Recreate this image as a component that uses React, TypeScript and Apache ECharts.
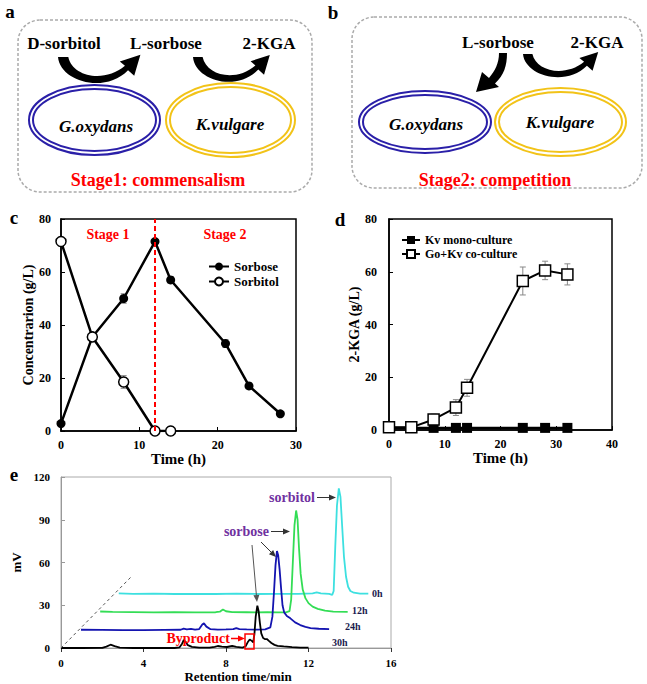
import React, { useEffect, useRef } from 'react';
import * as echarts from 'echarts';

const SERIF = "'Liberation Serif', serif";

// ---------- Panel c ----------
const timeC = [0, 4, 8, 12, 14, 21, 24, 28];
const sorbose = [2.8, 35.5, 50, 71.5, 57, 33, 17, 6.5];
const sorboseErr = [0, 0, 1.8, 0, 1.2, 1.5, 0.8, 0];
const timeSorbitol = [0, 4, 8, 12, 14];
const sorbitol = [71.5, 35.5, 18.5, 0, 0];
const sorbitolErr = [0, 0, 2.4, 0, 0];
const stageBoundary = 12;

// ---------- Panel d ----------
const timeD = [0, 4, 8, 12, 14, 24, 28, 32];
const monoCulture = [0.8, 0.8, 0.8, 0.8, 0.8, 0.8, 0.8, 0.8];
const coCulture = [1, 1, 4, 8.5, 16, 56.5, 60.5, 59];
const coCultureErr = [0, 0, 2, 3, 3.2, 5.3, 3.5, 4];

// ---------- Panel e (chromatograms, [min, mV]) ----------
const trace0h = [
  [2.8, 38.3], [3.5, 38.0], [4.5, 38.1], [5.5, 37.9], [6.5, 38.0], [7.5, 37.9], [8.5, 38.2], [9.5, 37.9],
  [10.5, 38.0], [11.5, 38.0], [12.2, 38.3], [12.4, 39.0], [12.6, 38.3], [13.0, 38.0], [13.15, 37.3],
  [13.22, 40], [13.3, 72], [13.38, 100], [13.47, 112], [13.55, 106], [13.63, 86], [13.72, 64],
  [13.82, 50], [13.92, 43], [14.03, 40], [14.2, 38.8], [14.5, 38.2], [14.9, 38.1],
];
const trace12h = [
  [1.9, 25.6], [2.5, 25.3], [3.5, 25.2], [4.5, 25.0], [5.5, 25.1], [6.5, 25.0], [7.5, 25.1], [7.7, 25.5],
  [7.85, 27], [8.0, 25.8], [8.3, 25.2], [9, 25.1], [9.5, 25.0], [10, 25.1], [10.5, 25.0], [10.9, 25.0],
  [11.08, 25.8], [11.16, 34], [11.24, 60], [11.32, 86], [11.4, 96.5], [11.47, 90], [11.54, 70],
  [11.62, 52], [11.72, 41], [11.85, 35], [12.0, 31.5], [12.2, 29], [12.45, 27.5], [12.8, 26.2],
  [13.2, 25.5], [13.9, 25.3],
];
const trace24h = [
  [0.97, 12.8], [2, 12.7], [3, 12.6], [4, 12.6], [5, 12.7], [5.8, 12.8], [5.95, 13.6], [6.1, 13.1],
  [6.3, 13.4], [6.5, 12.9], [6.7, 13.3], [6.85, 16.5], [6.93, 17.3], [7.05, 15], [7.25, 13.2],
  [7.6, 12.9], [8.0, 13.0], [8.35, 13.2], [8.5, 14], [8.65, 13.3], [9.0, 13.0], [9.5, 12.9],
  [9.9, 13.1], [10.15, 14.5], [10.25, 22], [10.33, 40], [10.4, 58], [10.47, 68], [10.53, 65],
  [10.6, 55], [10.67, 42], [10.74, 30], [10.82, 25], [10.95, 22.5], [11.12, 20.8], [11.35, 18],
  [11.6, 16.1], [11.85, 14.8], [12.1, 14], [12.5, 13.5], [13.0, 13.3],
];
const trace30h = [
  [0, 0], [1, 0], [2.0, 0.1], [2.2, 1.0], [2.4, 2.3], [2.6, 1.3], [2.85, 0.3], [3.5, 0], [4.5, 0],
  [5.5, 0], [5.75, 0.5], [5.87, 3], [5.95, 5.6], [6.05, 4.2], [6.15, 2], [6.35, 0.8], [6.7, 0.3],
  [7.2, 0.3], [7.45, 0.8], [7.6, 1.4], [7.8, 1.0], [8.05, 0.7], [8.3, 1.4], [8.5, 0.8], [8.8, 0.3],
  [8.95, 1.2], [9.05, 4], [9.15, 6], [9.25, 5], [9.32, 4], [9.38, 10], [9.44, 22], [9.52, 29.7],
  [9.58, 26], [9.64, 18], [9.71, 10.3], [9.8, 7], [9.9, 6.2], [9.98, 6.3], [10.08, 5], [10.2, 3.5],
  [10.35, 2.2], [10.5, 1.5], [10.8, 1.1], [11.2, 0.6], [11.6, 0.3], [12.0, 0.2],
];
const traceLabels = ['0h', '12h', '24h', '30h'];

// ---------- Decorative arrow shapes ----------
const CURVED_ARROW =
  'M 0 0 C 2 22 45 34 68 12 L 74 17 L 80 -2 L 60 4 L 65 8 C 45 24 14 18 10 0 Z';
const DOWN_ARROW =
  'M 499 53 L 507 53 C 507 66 504 75 495 83.5 L 499 87 L 476 92 L 482 72 L 489 78 C 495 71 499 63 499 53 Z';
echarts.graphic.registerShape('curvedArrow', echarts.graphic.extendPath(CURVED_ARROW, {}));
echarts.graphic.registerShape('downArrow', echarts.graphic.extendPath(DOWN_ARROW, {}));

const labelStyle = { color: '#000', fontFamily: SERIF, fontWeight: 'bold' as const, fontSize: 12 };

function errSeries(axis: number, xs: number[], ys: number[], errs: number[]) {
  const data = xs
    .map((x, i) => [x, ys[i] - errs[i], ys[i] + errs[i]])
    .filter((_, i) => errs[i] > 0);
  return {
    type: 'custom',
    xAxisIndex: axis,
    yAxisIndex: axis,
    silent: true,
    z: 1,
    encode: { x: 0, y: [1, 2] },
    data,
    renderItem: (_p: any, api: any) => {
      const x = api.value(0);
      const top = api.coord([x, api.value(2)]);
      const bot = api.coord([x, api.value(1)]);
      const st = { stroke: '#888', lineWidth: 1 };
      return {
        type: 'group',
        children: [
          { type: 'line', shape: { x1: top[0], y1: top[1], x2: bot[0], y2: bot[1] }, style: st },
          { type: 'line', shape: { x1: top[0] - 3, y1: top[1], x2: top[0] + 3, y2: top[1] }, style: st },
          { type: 'line', shape: { x1: bot[0] - 3, y1: bot[1], x2: bot[0] + 3, y2: bot[1] }, style: st },
        ],
      };
    },
  };
}

function arrow(x1: number, y1: number, x2: number, y2: number, color: string, width = 1) {
  const a = Math.atan2(y2 - y1, x2 - x1);
  const L = 7;
  const w = 3;
  const bx = x2 - L * Math.cos(a);
  const by = y2 - L * Math.sin(a);
  return [
    { type: 'line', z: 100, shape: { x1, y1, x2: bx, y2: by }, style: { stroke: color, lineWidth: width } },
    {
      type: 'polygon',
      z: 100,
      shape: {
        points: [
          [x2, y2],
          [bx + w * Math.sin(a), by - w * Math.cos(a)],
          [bx - w * Math.sin(a), by + w * Math.cos(a)],
        ],
      },
      style: { fill: color },
    },
  ];
}

function txt(text: string, x: number, y: number, size: number, color = '#000', align = 'center', extra: any = {}) {
  return {
    type: 'text',
    z: 100,
    x,
    y,
    style: {
      text,
      fill: color,
      fontFamily: SERIF,
      fontWeight: 'bold',
      fontSize: size,
      align,
      verticalAlign: 'middle',
      ...extra,
    },
  };
}

function ellipseDouble(cx: number, cy: number, rx: number, ry: number, color: string) {
  return [
    { type: 'ellipse', z: 90, shape: { cx, cy, rx, ry }, style: { fill: 'none', stroke: color, lineWidth: 2 } },
    { type: 'ellipse', z: 90, shape: { cx, cy, rx: rx - 4, ry: ry - 4 }, style: { fill: 'none', stroke: color, lineWidth: 2 } },
  ];
}

export default function App() {
  const ref = useRef<HTMLDivElement>(null);
  useEffect(() => {
    if (!ref.current) return;
    const chart = echarts.init(ref.current, undefined, { renderer: 'svg' });
    const BLUE = '#2a1fa8';
    const YELLOW = '#f2c318';

    const graphic: any[] = [
      // panel letters
      txt('a', 10, 11, 19, '#000', 'center'),
      txt('b', 333, 12, 19, '#000', 'center'),
      txt('c', 14, 217, 19, '#000', 'center'),
      txt('d', 340, 219, 19, '#000', 'center'),
      txt('e', 14, 474, 19, '#000', 'center'),
      // panel a
      { type: 'rect', z: 80, shape: { x: 18, y: 20, width: 294, height: 172, r: 22 }, style: { fill: 'none', stroke: '#aaa', lineWidth: 1.5, lineDash: [3, 2] } },
      txt('D-sorbitol', 64, 43, 17),
      txt('L-sorbose', 166, 43, 17),
      txt('2-KGA', 269, 43, 17),
      { type: 'curvedArrow', z: 95, x: 58, y: 57, scaleX: 1.03, scaleY: 1.1, style: { fill: '#000' } },
      { type: 'curvedArrow', z: 95, x: 193, y: 57, scaleX: 0.96, scaleY: 1.05, style: { fill: '#000' } },
      ...ellipseDouble(94.5, 120, 65.5, 35, BLUE),
      ...ellipseDouble(230.5, 120, 64.5, 37, YELLOW),
      txt('G.oxydans', 96, 126, 17, '#000', 'center', { fontStyle: 'italic' }),
      txt('K.vulgare', 230, 124, 17, '#000', 'center', { fontStyle: 'italic' }),
      txt('Stage1: commensalism', 158, 180, 18, '#f00'),
      // panel b
      { type: 'rect', z: 80, shape: { x: 352, y: 17, width: 290, height: 171, r: 22 }, style: { fill: 'none', stroke: '#aaa', lineWidth: 1.5, lineDash: [3, 2] } },
      txt('L-sorbose', 498, 42, 17),
      txt('2-KGA', 597, 42, 17),
      { type: 'downArrow', z: 95, x: 0, y: 0, style: { fill: '#000' } },
      { type: 'curvedArrow', z: 95, x: 523, y: 54, scaleX: 0.94, scaleY: 0.98, style: { fill: '#000' } },
      ...ellipseDouble(425, 122, 66, 31, BLUE),
      ...ellipseDouble(560.5, 122, 65.5, 34, YELLOW),
      txt('G.oxydans', 426, 124, 17, '#000', 'center', { fontStyle: 'italic' }),
      txt('K.vulgare', 560, 122, 17, '#000', 'center', { fontStyle: 'italic' }),
      txt('Stage2: competition', 495, 180, 18, '#f00'),
      // panel c stage labels
      txt('Stage 1', 108, 234, 14, '#f00'),
      txt('Stage 2', 225, 234, 14, '#f00'),
      // panel e annotations
      { type: 'line', z: 100, shape: { x1: 61, y1: 648, x2: 131, y2: 577 }, style: { stroke: '#555', lineWidth: 1, lineDash: [3, 3] } },
      txt('sorbitol', 315, 497, 14, '#7030a0', 'right'),
      ...arrow(317, 497.5, 336, 497.5, '#333'),
      txt('sorbose', 269, 531, 14, '#7030a0', 'right'),
      ...arrow(271, 531.5, 290, 531.5, '#333'),
      ...arrow(261, 542, 276, 557, '#333'),
      ...arrow(252, 545, 257, 602, '#555'),
      txt('Byproduct', 230, 638, 14, '#f00', 'right'),
      ...arrow(231, 638.5, 245, 638.5, '#f00', 1.5),
      { type: 'rect', z: 100, shape: { x: 245, y: 634, width: 9, height: 15 }, style: { fill: 'none', stroke: '#f00', lineWidth: 1.5 } },
      txt(traceLabels[0], 372, 593, 10, '#1a1a4d', 'left'),
      txt(traceLabels[1], 352, 610, 10, '#1a1a4d', 'left'),
      txt(traceLabels[2], 345, 626, 10, '#1a1a4d', 'left'),
      txt(traceLabels[3], 332, 642, 10, '#1a1a4d', 'left'),
    ];

    const blackAxisLine = { lineStyle: { color: '#000', width: 1.5 } };
    const insideTick = { inside: true, length: 4, lineStyle: { color: '#000' } };

    const option: any = {
      animation: false,
      backgroundColor: '#fff',
      textStyle: { fontFamily: SERIF },
      grid: [
        { left: 61, top: 219, width: 235, height: 212, show: true, borderColor: '#000', borderWidth: 1.5 },
        { left: 389, top: 219, width: 223, height: 211, show: true, borderColor: '#000', borderWidth: 1.5 },
        { left: 61, top: 477, width: 330, height: 171, show: true, borderColor: '#aaa', borderWidth: 1 },
      ],
      xAxis: [
        {
          gridIndex: 0, type: 'value', min: 0, max: 30, interval: 10,
          axisLine: blackAxisLine, axisTick: insideTick, splitLine: { show: false },
          axisLabel: { ...labelStyle, margin: 8 },
          name: 'Time (h)', nameLocation: 'middle', nameGap: 17,
          nameTextStyle: { fontFamily: SERIF, fontWeight: 'bold', fontSize: 15, color: '#000' },
        },
        {
          gridIndex: 1, type: 'value', min: 0, max: 40, interval: 10,
          axisLine: blackAxisLine, axisTick: insideTick, splitLine: { show: false },
          axisLabel: { ...labelStyle, margin: 8 },
          name: 'Time (h)', nameLocation: 'middle', nameGap: 17,
          nameTextStyle: { fontFamily: SERIF, fontWeight: 'bold', fontSize: 15, color: '#000' },
        },
        {
          gridIndex: 2, type: 'value', min: 0, max: 16, interval: 4,
          axisLine: { lineStyle: { color: '#999', width: 1 } },
          axisTick: { inside: false, length: 4, lineStyle: { color: '#333' } },
          splitLine: { show: false },
          axisLabel: { ...labelStyle, fontSize: 11, margin: 9 },
          name: 'Retention time/min', nameLocation: 'middle', nameGap: 22,
          nameTextStyle: { fontFamily: SERIF, fontWeight: 'bold', fontSize: 13, color: '#000', padding: [0, 0, 0, 24] },
        },
      ],
      yAxis: [
        {
          gridIndex: 0, type: 'value', min: 0, max: 80, interval: 20,
          axisLine: blackAxisLine, axisTick: insideTick, splitLine: { show: false },
          axisLabel: { ...labelStyle, margin: 10 },
          name: 'Concentrarion (g/L)', nameLocation: 'middle', nameGap: 26, nameRotate: 90,
          nameTextStyle: { fontFamily: SERIF, fontWeight: 'bold', fontSize: 14, color: '#000' },
        },
        {
          gridIndex: 1, type: 'value', min: 0, max: 80, interval: 20,
          axisLine: blackAxisLine, axisTick: insideTick, splitLine: { show: false },
          axisLabel: { ...labelStyle, margin: 12 },
          name: '2-KGA (g/L)', nameLocation: 'middle', nameGap: 27, nameRotate: 90,
          nameTextStyle: { fontFamily: SERIF, fontWeight: 'bold', fontSize: 14, color: '#000' },
        },
        {
          gridIndex: 2, type: 'value', min: 0, max: 120, interval: 30,
          axisLine: { lineStyle: { color: '#999', width: 1 } },
          axisTick: { inside: true, length: 4, lineStyle: { color: '#999' } },
          splitLine: { show: false },
          axisLabel: { ...labelStyle, fontSize: 11, margin: 11 },
          name: 'mV', nameLocation: 'middle', nameGap: 35, nameRotate: 90,
          nameTextStyle: { fontFamily: SERIF, fontWeight: 'bold', fontSize: 13, color: '#000' },
        },
      ],
      legend: [
        {
          left: 203, top: 255, orient: 'vertical', itemGap: 2, itemWidth: 20, itemHeight: 10,
          data: ['Sorbose', 'Sorbitol'],
          textStyle: { fontFamily: SERIF, fontWeight: 'bold', fontSize: 13, color: '#000' },
        },
        {
          left: 396, top: 229, orient: 'vertical', itemGap: 2, itemWidth: 18, itemHeight: 10,
          data: ['Kv mono-culture', 'Go+Kv co-culture'],
          textStyle: { fontFamily: SERIF, fontWeight: 'bold', fontSize: 12, color: '#000' },
        },
      ],
      series: [
        errSeries(0, timeC, sorbose, sorboseErr),
        errSeries(0, timeSorbitol, sorbitol, sorbitolErr),
        {
          type: 'line', name: 'Sorbose', xAxisIndex: 0, yAxisIndex: 0, z: 3,
          data: timeC.map((t, i) => [t, sorbose[i]]),
          symbol: 'circle', symbolSize: 9,
          itemStyle: { color: '#000' }, lineStyle: { color: '#000', width: 2.5 },
          markLine: {
            silent: true, symbol: ['none', 'none'], label: { show: false },
            lineStyle: { color: '#f00', type: [5, 3], width: 2 },
            data: [{ xAxis: stageBoundary }],
          },
        },
        {
          type: 'line', name: 'Sorbitol', xAxisIndex: 0, yAxisIndex: 0, z: 4,
          data: timeSorbitol.map((t, i) => [t, sorbitol[i]]),
          symbol: 'circle', symbolSize: 10,
          itemStyle: { color: '#fff', borderColor: '#000', borderWidth: 1.5 },
          lineStyle: { color: '#000', width: 2.5 },
        },
        errSeries(1, timeD, coCulture, coCultureErr),
        {
          type: 'line', name: 'Kv mono-culture', xAxisIndex: 1, yAxisIndex: 1, z: 3,
          data: timeD.map((t, i) => [t, monoCulture[i]]),
          symbol: 'rect', symbolSize: 10,
          itemStyle: { color: '#000' }, lineStyle: { color: '#000', width: 2.5 },
        },
        {
          type: 'line', name: 'Go+Kv co-culture', xAxisIndex: 1, yAxisIndex: 1, z: 4,
          data: timeD.map((t, i) => [t, coCulture[i]]),
          symbol: 'rect', symbolSize: 11,
          itemStyle: { color: '#fff', borderColor: '#000', borderWidth: 1.5 },
          lineStyle: { color: '#000', width: 2 },
        },
        {
          type: 'line', name: traceLabels[0], xAxisIndex: 2, yAxisIndex: 2, data: trace0h,
          showSymbol: false, symbol: 'none', lineStyle: { color: '#3de0e0', width: 1.8 },
        },
        {
          type: 'line', name: traceLabels[1], xAxisIndex: 2, yAxisIndex: 2, data: trace12h,
          showSymbol: false, symbol: 'none', lineStyle: { color: '#33dd55', width: 1.8 },
        },
        {
          type: 'line', name: traceLabels[2], xAxisIndex: 2, yAxisIndex: 2, data: trace24h,
          showSymbol: false, symbol: 'none', lineStyle: { color: '#1414b0', width: 1.8 },
        },
        {
          type: 'line', name: traceLabels[3], xAxisIndex: 2, yAxisIndex: 2, data: trace30h,
          showSymbol: false, symbol: 'none', lineStyle: { color: '#000', width: 1.8 },
        },
      ],
      graphic,
    };
    chart.setOption(option);
    return () => chart.dispose();
  }, []);
  return (
    <div
      ref={ref}
      style={{ position: 'absolute', left: 0, top: 0, width: 647, height: 684, background: '#fff' }}
    />
  );
}
